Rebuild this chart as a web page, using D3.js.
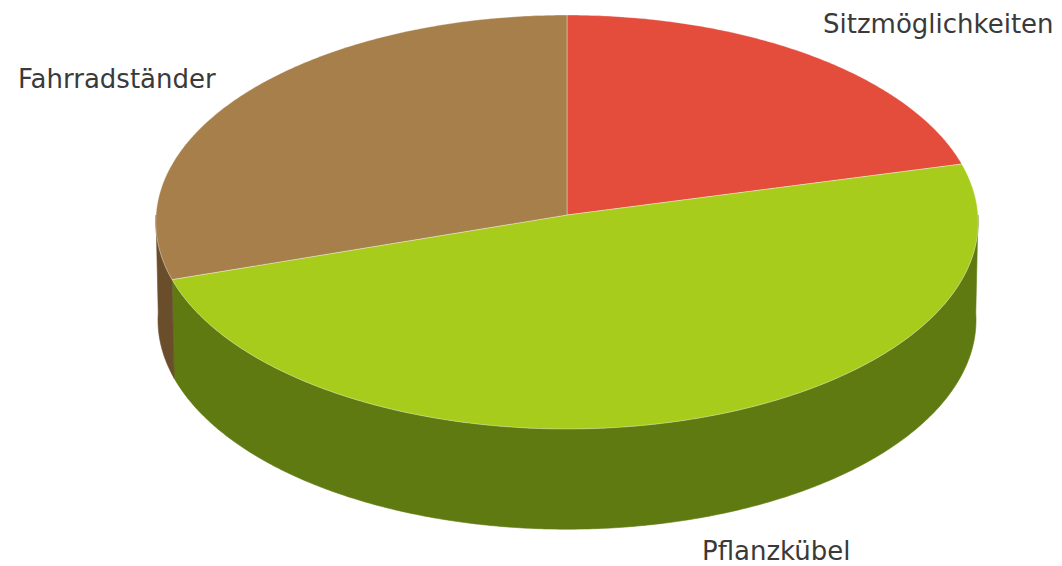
<!DOCTYPE html>
<html>
<head>
<meta charset="utf-8">
<script src="https://cdn.jsdelivr.net/npm/d3@7"></script>
<style>
  html, body { margin: 0; padding: 0; background: #ffffff; }
  svg { display: block; }
</style>
</head>
<body>
<svg id="chart" width="1062" height="566"></svg>
<script>
// Slice data
const categories = ["Sitzmöglichkeiten", "Pflanzkübel", "Fahrradständer"];
const values = [21, 49, 30];
const topColors = ["#e44c3c", "#a8cc1c", "#a67f4b"];
const sideColors = ["#8f2a1f", "#5e7a10", "#6a4e2b"];

// 3D disc geometry
const W = 1062, H = 566;
const cx = 567, cy = 215;
const R = 411;
const depth = 114;
const alpha = 30.2 * Math.PI / 180;
const F = 10500;
const sinA = Math.sin(alpha), cosA = Math.cos(alpha);

// theta measured clockwise from the far (12 o'clock) point; Y is height (0 = top face)
function proj(theta, Y) {
  const x = R * Math.sin(theta);
  const z = -R * Math.cos(theta);
  const sy = z * sinA - Y * cosA;
  const dep = -z * cosA - Y * sinA;
  const s = F / (F + dep);
  return [cx + x * s, cy + sy * s];
}
function centerProj(Y) {
  const sy = -Y * cosA;
  const dep = -Y * sinA;
  const s = F / (F + dep);
  return [cx, cy + sy * s];
}
function arcPoints(a0, a1, Y) {
  const n = Math.max(2, Math.ceil(Math.abs(a1 - a0) / (Math.PI / 360)));
  const pts = [];
  for (let i = 0; i <= n; i++) pts.push(proj(a0 + (a1 - a0) * i / n, Y));
  return pts;
}

const svg = d3.select("#chart");
const line = d3.line();

const pie = d3.pie().sort(null).value(d => d).startAngle(0).endAngle(2 * Math.PI);
const arcs = pie(values);

// Outer walls: only the near half of the rim faces the viewer
const gSide = svg.append("g");
arcs.forEach((a, i) => {
  const lo = Math.max(a.startAngle, Math.PI / 2);
  const hi = Math.min(a.endAngle, 3 * Math.PI / 2);
  if (hi <= lo) return;
  const topEdge = arcPoints(lo, hi, 0);
  const botEdge = arcPoints(hi, lo, -depth);
  gSide.append("path")
    .attr("d", line(topEdge.concat(botEdge)) + "Z")
    .attr("fill", sideColors[i])
    .attr("stroke", sideColors[i])
    .attr("stroke-width", 0.6);
});

// Top faces
const gTop = svg.append("g");
arcs.forEach((a, i) => {
  const pts = [centerProj(0)].concat(arcPoints(a.startAngle, a.endAngle, 0));
  gTop.append("path")
    .attr("d", line(pts) + "Z")
    .attr("fill", topColors[i])
    .attr("stroke", "#ffffff")
    .attr("stroke-opacity", 0.35)
    .attr("stroke-width", 1)
    .attr("stroke-linejoin", "round");
});

// Data labels
const labelPos = [[823, 33], [702, 560], [18, 88]];
svg.append("g").selectAll("text")
  .data(categories)
  .join("text")
  .attr("x", (d, i) => labelPos[i][0])
  .attr("y", (d, i) => labelPos[i][1])
  .attr("font-family", "DejaVu Sans, Verdana, sans-serif")
  .attr("font-size", 26)
  .attr("fill", "#3a3a3a")
  .text(d => d);
</script>
</body>
</html>
